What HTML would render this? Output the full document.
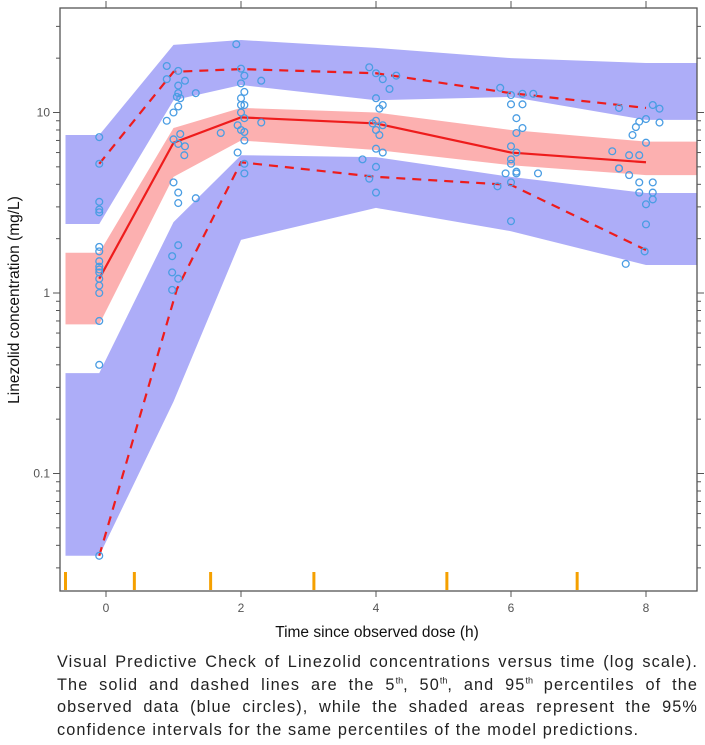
<!DOCTYPE html>
<html><head><meta charset="utf-8"><style>
body{margin:0;background:#fff;width:705px;height:745px;overflow:hidden;font-family:"Liberation Sans",sans-serif}
#cap{position:absolute;left:57px;top:651px;width:641px;font-size:16.3px;letter-spacing:1.1px;line-height:22.5px;color:#222}
#cap div{text-align:justify;text-align-last:justify;white-space:nowrap;height:22.5px}
#cap div.last{text-align-last:left}
sup{font-size:9px;line-height:0;letter-spacing:0}
</style></head><body>
<svg id="chart" width="705" height="650" style="position:absolute;left:0;top:0" font-family="Liberation Sans, sans-serif"></svg>
<div id="cap">
<div>Visual Predictive Check of Linezolid concentrations versus time (log scale).</div>
<div>The solid and dashed lines are the 5<sup>th</sup>, 50<sup>th</sup>, and 95<sup>th</sup> percentiles of the</div>
<div>observed data (blue circles), while the shaded areas represent the 95%</div>
<div class="last">confidence intervals for the same percentiles of the model predictions.</div>
</div>
<script>
const bandTimes=[-0.6,-0.1,1,2,4,6,8,8.75];
const upHi=[7.5,7.5,23.7,25.2,22.8,20,18.8,18.8];
const upLo=[2.41,2.41,11.7,14.2,11.7,12.2,9.1,9.1];
const medHi=[1.67,1.67,8.2,10.6,10.0,8.0,6.9,6.9];
const medLo=[0.67,0.67,4.4,7.0,6.2,5.1,4.5,4.5];
const loHi=[0.36,0.36,2.47,5.8,5.66,4.4,3.58,3.58];
const loLo=[0.035,0.035,0.25,1.97,2.96,2.2,1.43,1.43];
const lineTimes=[-0.1,1,2,4,6,8];
const p50=[1.2,6.8,9.4,8.7,6.0,5.3];
const p95=[5.2,16.8,17.4,16.5,12.8,10.6];
const lowTimes=[-0.1,1.05,2,4,6,8];
const p05=[0.035,1.05,5.3,4.4,3.97,1.73];
const obsT=[-0.1,-0.1,-0.1,-0.1,-0.1,-0.1,-0.1,-0.1,-0.1,-0.1,-0.1,-0.1,-0.1,-0.1,-0.1,-0.1,-0.1,
0.9,0.9,1.07,1.07,1.17,1.07,1.05,1.1,1.33,1.07,1.0,0.9,1.1,1.0,1.07,1.17,1.16,1.0,1.07,1.07,1.33,0.98,0.98,1.07,0.98,1.07,
1.93,2.0,2.05,2.0,2.05,2.0,2.0,2.05,2.0,2.05,1.95,2.0,2.05,1.7,2.05,1.95,2.05,2.05,2.3,2.3,
3.9,4.0,4.1,4.2,4.0,4.1,4.05,4.0,3.95,4.1,4.0,4.05,4.0,4.1,3.8,4.0,3.9,4.0,4.3,
5.84,6.0,6.0,6.17,6.17,6.33,6.08,6.17,6.08,6.0,6.08,6.0,6.08,6.08,5.92,6.0,6.4,6.0,5.8,6.0,
7.6,8.1,8.2,8.0,7.9,7.85,7.8,8.2,8.0,7.5,7.75,7.9,7.6,7.75,7.9,8.1,8.1,8.1,8.0,8.0,7.6,7.9,7.98,7.7];
const obsV=[7.3,5.2,3.2,2.9,2.8,1.8,1.7,1.5,1.4,1.35,1.3,1.2,1.1,1.0,0.7,0.4,0.035,
18.1,15.3,17,14.1,15,12.8,12.2,12,12.8,10.8,10,9,7.6,7.1,6.7,6.5,5.8,4.1,3.6,3.15,3.35,1.6,1.3,1.2,1.04,1.84,
23.9,17.5,16,14.5,13,12,11,11,10,9.3,8.5,8,7.8,7.7,7,6,5.2,4.6,15,8.8,
17.8,16.5,15.3,13.5,12,11,10.5,9,8.7,8.5,8,7.5,6.3,6,5.5,5,4.3,3.6,16,
13.7,12.5,11.1,12.7,11.1,12.7,9.3,8.2,7.7,6.5,6,5.5,4.7,4.6,4.6,4.1,4.6,2.5,3.9,5.2,
10.6,11,10.5,9.2,8.9,8.3,7.5,8.8,6.8,6.1,5.8,5.8,4.9,4.5,4.1,4.1,3.6,3.3,3.1,2.4,4.9,3.6,1.7,1.45];
const rugT=[-0.6,0.42,1.55,3.08,5.05,6.98];
const xTicks=[0,2,4,6,8];
const yTickVals=[0.1,1,10];
const yTickLabels=["0.1","1","10"];

const L=60,R=697,T=8,B=591;
const x=t=>106+67.5*t;
const y=v=>293-180.5*Math.log10(v);
const svg=document.getElementById('chart');
const NS='http://www.w3.org/2000/svg';
function mk(tag,at,parent){const e=document.createElementNS(NS,tag);for(const k in at)e.setAttribute(k,at[k]);(parent||svg).appendChild(e);return e;}
function band(hi,lo,fill,name){
  let pts=bandTimes.map((t,i)=>x(t)+','+y(hi[i]));
  for(let i=bandTimes.length-1;i>=0;i--)pts.push(x(bandTimes[i])+','+y(lo[i]));
  const p=mk('polygon',{points:pts.join(' '),fill:fill});
  
  
}
band(upHi,upLo,'#adadf8','ci-band-95th');
band(loHi,loLo,'#adadf8','ci-band-5th');
band(medHi,medLo,'#fcb0b0','ci-band-50th');
function line(ts,vs,dash,name){
  const p=mk('polyline',{points:ts.map((t,i)=>x(t)+','+y(vs[i])).join(' '),fill:'none',stroke:'#ee1c1c','stroke-width':2.2,'stroke-dasharray':dash});
  
  
}
line(lineTimes,p50,'none','median-line');
line(lineTimes,p95,'9,7','p95-line');
line(lowTimes,p05,'9,7','p05-line');
obsT.forEach((t,i)=>{
  const c=mk('circle',{cx:x(t),cy:y(obsV[i]),r:3.4,fill:'none',stroke:'#4a9de3','stroke-width':1.3});
  
  
});
rugT.forEach(t=>{
  const r=mk('line',{x1:x(t),x2:x(t),y1:572,y2:590,stroke:'#f5a000','stroke-width':3});
  
  
});
const frame=mk('rect',{x:L,y:T,width:R-L,height:B-T,fill:'none',stroke:'#555','stroke-width':1.3});


xTicks.forEach(t=>{
  mk('line',{x1:x(t),x2:x(t),y1:B,y2:B+6,stroke:'#555'});
  mk('line',{x1:x(t),x2:x(t),y1:T,y2:T-7,stroke:'#555'});
  const tx=mk('text',{x:x(t),y:612,'text-anchor':'middle','font-size':12,fill:'#555'});
  tx.textContent=t;
  
  
});
for(let d=-2;d<=1;d++){for(let m=1;m<=9;m++){const v=m*Math.pow(10,d);const yy=y(v);if(yy<T||yy>B)continue;const len=m===1?7:4;
  mk('line',{x1:L,x2:L-len,y1:yy,y2:yy,stroke:'#555'});
  mk('line',{x1:R,x2:R+len,y1:yy,y2:yy,stroke:'#555'});}}
yTickVals.forEach((v,i)=>{
  const tx=mk('text',{x:L-10,y:y(v)+4,'text-anchor':'end','font-size':12,fill:'#555'});
  tx.textContent=yTickLabels[i];
  
  
});
const xt=mk('text',{x:377,y:637,'text-anchor':'middle','font-size':15.5,fill:'#111'});
xt.textContent='Time since observed dose (h)';


const yt=mk('text',{x:0,y:0,transform:'translate(19,300) rotate(-90)','text-anchor':'middle','font-size':15.5,fill:'#111'});
yt.textContent='Linezolid concentration (mg/L)';


</script>
</body></html>
